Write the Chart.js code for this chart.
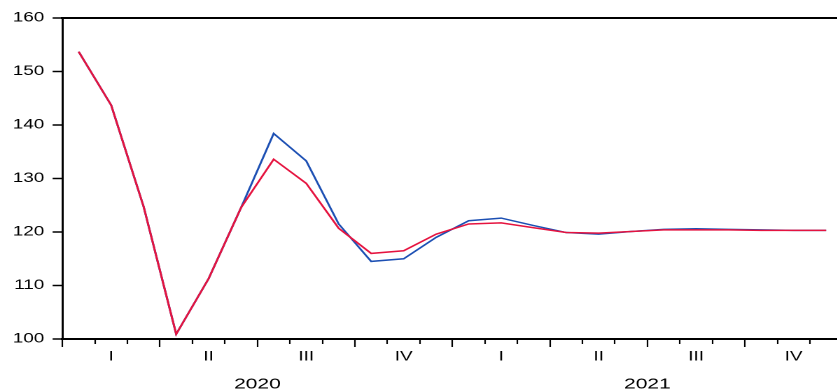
<!DOCTYPE html>
<html><head><meta charset="utf-8">
<script src="https://cdn.jsdelivr.net/npm/chart.js@4"></script>
<style>
html,body{margin:0;padding:0;background:#fff;overflow:hidden}
#wrap{width:837px;height:392px;overflow:hidden;position:relative;background:#fff}
#c{position:absolute;left:0;top:0;transform:scaleX(1.4);transform-origin:0 0}
</style></head><body>
<div id="wrap"><canvas id="c" width="598" height="392"></canvas></div>
<script>
// ---- data ----
const months = ['2020-01','2020-02','2020-03','2020-04','2020-05','2020-06','2020-07','2020-08','2020-09','2020-10','2020-11','2020-12',
                '2021-01','2021-02','2021-03','2021-04','2021-05','2021-06','2021-07','2021-08','2021-09','2021-10','2021-11','2021-12'];
const quarterLabels = ['I','II','III','IV'];
const yearLabels = ['2020','2021'];
const yTicks = [100,110,120,130,140,150,160];
const seriesBlue = [153.7,143.7,124.7,100.9,111.3,124.6,138.4,133.3,121.5,114.5,115.0,119.0,122.1,122.6,121.2,119.9,119.6,120.1,120.5,120.6,120.5,120.4,120.3,120.3];
const seriesRed  = [153.7,143.7,124.7,100.9,111.3,124.6,133.6,129.1,120.7,116.0,116.5,119.6,121.5,121.7,120.8,119.9,119.8,120.1,120.4,120.4,120.4,120.3,120.3,120.3];

const FONT = '"Liberation Sans", Arial, sans-serif';
const toPoints = arr => arr.map((v,i)=>({x:i+0.5, y:v}));
const xMax = 23.84;

Chart.defaults.color = '#000';
Chart.defaults.font.family = FONT;

new Chart(document.getElementById('c'), {
  type: 'line',
  data: {
    datasets: [
      {label:'Red', data: toPoints(seriesRed), borderColor:'#E5133F', borderWidth:1.5, pointRadius:0, tension:0, fill:false},
      {label:'Blue', data: toPoints(seriesBlue), borderColor:'#1C4FB3', borderWidth:1.5, pointRadius:0, tension:0, fill:false}
    ]
  },
  options: {
    responsive:false, animation:false, devicePixelRatio:2,
    layout:{padding:0},
    plugins:{legend:{display:false}, tooltip:{enabled:false}, title:{display:false}},
    scales:{
      x:{
        type:'linear', position:'bottom', min:0, max:xMax,
        afterBuildTicks(scale){
          const t=[];
          for(let m=0;m<months.length;m++){ t.push({value:m}); if(m%3===1) t.push({value:m+0.5}); }
          scale.ticks=t;
        },
        afterFit(scale){ scale.height = 53; },
        ticks:{
          autoSkip:false, maxRotation:0, minRotation:0, padding:0,
          callback(value){
            if(Number.isInteger(value)){
              if(value%12===6) return ['', yearLabels[(value-6)/12]];
              return '';
            }
            return quarterLabels[Math.floor(value/3)%4];
          },
          font(ctx){
            const v = ctx.tick ? ctx.tick.value : 0;
            if(Number.isInteger(v) && v%12===6) return {family:FONT, size:15, lineHeight:'25px'};
            return {family:FONT, size:13.5, lineHeight:'20px'};
          }
        },
        grid:{
          display:true, drawOnChartArea:false, drawTicks:true, tickLength:8, tickWidth:1.1,
          tickColor(ctx){ return (ctx.tick && Number.isInteger(ctx.tick.value)) ? '#000' : 'rgba(0,0,0,0)'; },
          tickBorderDash(ctx){ return (ctx.tick && Number.isInteger(ctx.tick.value) && ctx.tick.value%3!==0) ? [4,60] : []; }
        },
        border:{display:true, color:'#000', width:2}
      },
      xTop:{
        type:'linear', position:'top', min:0, max:xMax,
        afterFit(scale){ scale.height = 18; },
        ticks:{display:false},
        grid:{display:true, drawOnChartArea:false, drawTicks:false},
        border:{display:true, color:'#000', width:2}
      },
      y:{
        type:'linear', position:'left', min:100, max:160,
        afterBuildTicks(scale){ scale.ticks = yTicks.map(v=>({value:v})); },
        afterFit(scale){ scale.width = 44.6; },
        ticks:{padding:6, font:{family:FONT, size:13.5}, color:'#000'},
        grid:{display:true, drawOnChartArea:false, drawTicks:true, tickLength:7, tickWidth:1.5, tickColor:'#000'},
        border:{display:true, color:'#000', width:1.5}
      }
    }
  }
});
</script>
</body></html>
